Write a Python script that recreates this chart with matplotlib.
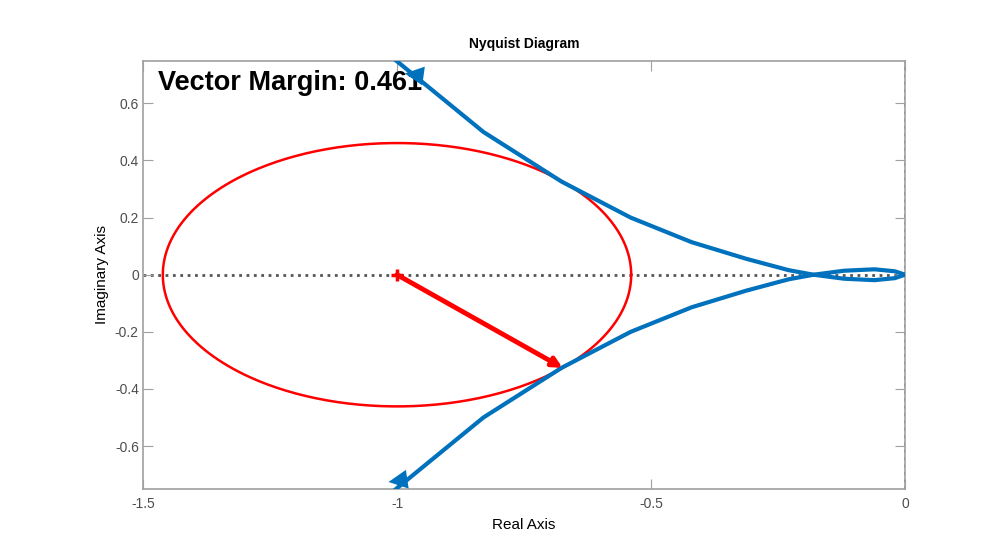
import numpy as np
import matplotlib
matplotlib.use("Agg")
from matplotlib import pyplot as plt

plt.rcParams['font.family'] = ['Liberation Sans', 'DejaVu Sans']

# lower branch of the Nyquist curve (upper branch is its mirror image)
re_lower = [-1.05, -0.83, -0.676, -0.54, -0.42, -0.313, -0.229, -0.18, -0.12, -0.06, -0.02, 0.0]
im_lower = [-0.82, -0.50, -0.326, -0.20, -0.114, -0.056, -0.016, 0.0, 0.014, 0.019, 0.012, 0.0]

# direction arrows on the curve (tip, tail)
arrow_low = [(-1.022, -0.727), (-0.980, -0.716)]
arrow_up = [(-0.990, 0.706), (-0.945, 0.695)]

critical_pt = (-1.0, 0.0)
vector_margin = 0.461
closest_pt = (-0.674, -0.326)

blue = "#0072BD"
grey = "#555555"

fig = plt.figure(figsize=(10, 5.5), dpi=100)
ax = fig.add_axes([0.143, 0.111, 0.762, 0.779])

re = np.array(re_lower)
im = np.array(im_lower)
ax.plot(re, im, c=blue, lw=3, solid_joinstyle="round", zorder=3)
ax.plot(re, -im, c=blue, lw=3, solid_joinstyle="round", zorder=3)

for tip, tail in (arrow_low, arrow_up):
    ax.annotate("", xy=tip, xytext=tail,
                arrowprops=dict(arrowstyle="-|>", color=blue, lw=0, mutation_scale=34),
                zorder=4)

# axis lines
ax.axhline(0, c=grey, ls=":", lw=2, zorder=1)
ax.axvline(0, c=grey, ls=":", lw=2, zorder=1)

# vector margin circle
t = np.linspace(0, 2 * np.pi, 400)
ax.plot(critical_pt[0] + vector_margin * np.cos(t),
        critical_pt[1] + vector_margin * np.sin(t), c="red", lw=1.8, zorder=2)
ax.annotate("", xy=closest_pt, xytext=critical_pt,
            arrowprops=dict(arrowstyle="-|>", color="red", lw=3.5, mutation_scale=14,
                            shrinkA=0, shrinkB=0), zorder=5)
ax.plot(*critical_pt, marker="+", c="red", ms=8, mew=2.5, zorder=5)

ax.text(-1.47, 0.645, "Vector Margin: %.3f" % vector_margin,
        fontsize=19.5, fontweight="bold", va="baseline", ha="left", zorder=2)

ax.set_xlim(-1.5, 0)
ax.set_ylim(-0.75, 0.75)
ax.set_xticks([-1.5, -1, -0.5, 0])
ax.set_xticklabels(["-1.5", "-1", "-0.5", "0"])
ax.set_yticks([-0.6, -0.4, -0.2, 0, 0.2, 0.4, 0.6])
ax.set_yticklabels(["-0.6", "-0.4", "-0.2", "0", "0.2", "0.4", "0.6"])
ax.tick_params(direction="in", length=7, width=0.8, colors="#a0a0a0",
               labelcolor="#4d4d4d", labelsize=10, top=True, right=True, pad=6)
ax.tick_params(axis="y", pad=3)
for s in ax.spines.values():
    s.set_color("#a0a0a0")
    s.set_linewidth(1.2)

ax.set_title("Nyquist Diagram", fontsize=10, fontweight="bold", pad=9)
ax.set_xlabel("Real Axis", fontsize=11, labelpad=5)
ax.set_ylabel("Imaginary Axis", fontsize=11, labelpad=4)

fig.savefig("out.png", dpi=100)
